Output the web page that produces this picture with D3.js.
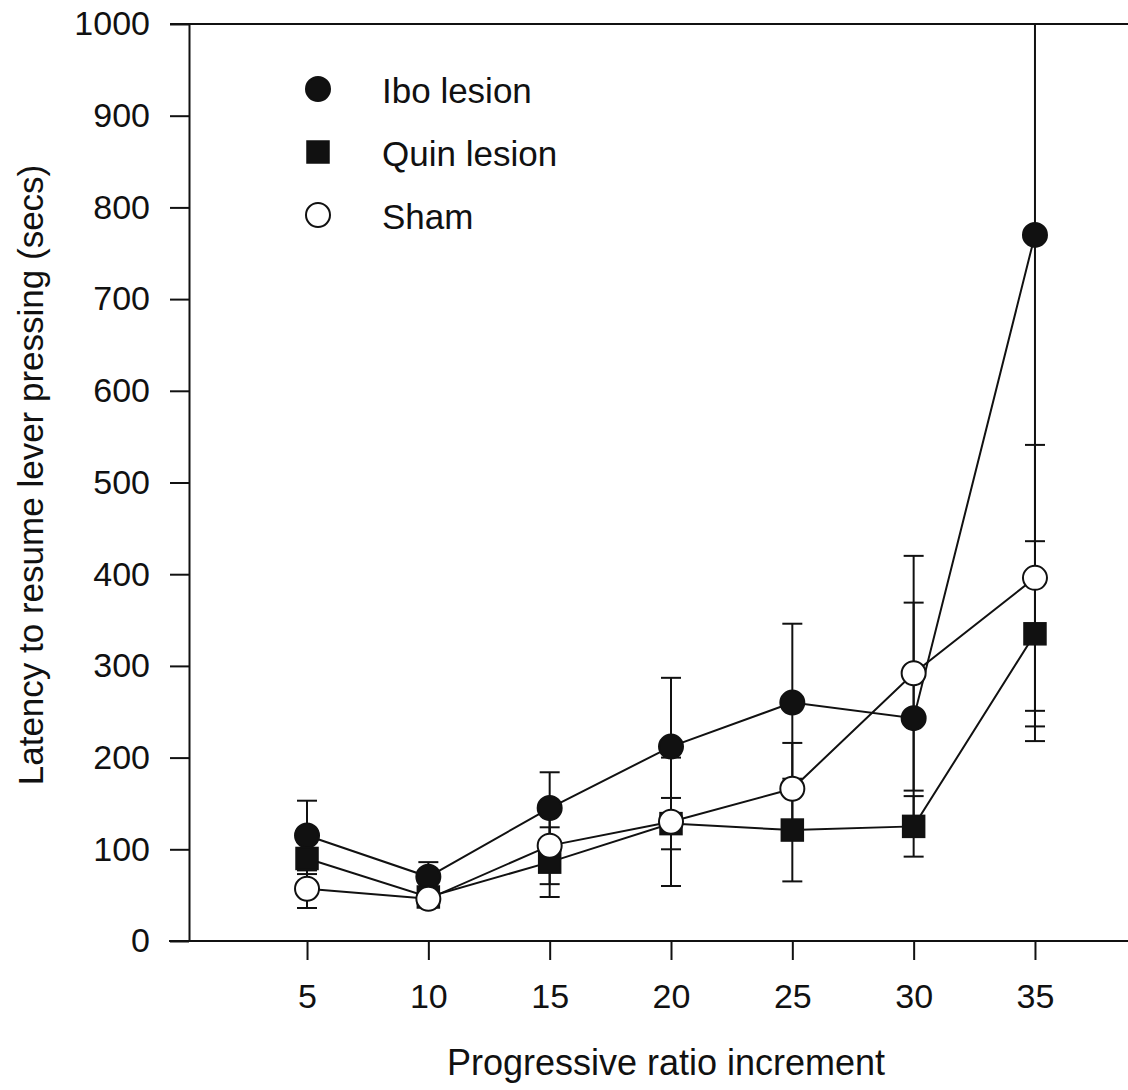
<!DOCTYPE html>
<html>
<head>
<meta charset="utf-8">
<script src="https://cdn.jsdelivr.net/npm/d3@7"></script>
<style>
  body { margin: 0; background: #fff; }
  svg text { font-family: Arial, "Liberation Sans", sans-serif; fill: #111; }
</style>
</head>
<body>
<div id="chart"></div>
<script>
// progressive ratio increments
const increments = [5, 10, 15, 20, 25, 30, 35];

// mean latency (secs) and error (+/-) per group
const iboMean = [115, 70, 145, 212, 260, 243, 770];
const iboErr  = [38, 16, 39, 75, 86, 126, 552];
const quinMean = [90, 48, 86, 128, 121, 125, 335];
const quinErr  = [17, 5, 38, 28, 56, 33, 101];
const shamMean = [57, 46, 104, 130, 166, 292, 396];
const shamErr  = [21, 5, 42, 70, 50, 128, 145];

const yTicks = [0, 100, 200, 300, 400, 500, 600, 700, 800, 900, 1000];
const xTicks = [5, 10, 15, 20, 25, 30, 35];

const width = 1128, height = 1090;
const axisX = 189;

const svg = d3.select('#chart').append('svg')
    .attr('width', width)
    .attr('height', height);

const x = d3.scaleLinear().domain([0, 40]).range([185.7, 1156.3]);
const y = d3.scaleLinear().domain([0, 1000]).range([941, 24]);

/**
 * Axes.
 */
const yAxis = d3.axisLeft(y)
    .tickValues(yTicks)
    .tickFormat(d3.format('d'))
    .tickSize(19)
    .tickSizeOuter(0)
    .tickPadding(20);

const gy = svg.append('g')
    .attr('transform', `translate(${axisX},0)`)
    .call(yAxis);
gy.select('.domain').attr('stroke', '#111').attr('stroke-width', 2);
gy.selectAll('.tick line').attr('stroke', '#111').attr('stroke-width', 2);
gy.selectAll('.tick text').attr('font-size', 34).attr('fill', '#111');

const xAxis = d3.axisBottom(x)
    .tickValues(xTicks)
    .tickSize(19)
    .tickSizeOuter(0)
    .tickPadding(24);

const gx = svg.append('g')
    .attr('transform', `translate(0,${y(0)})`)
    .call(xAxis);
gx.select('.domain').remove();
gx.selectAll('.tick line').attr('stroke', '#111').attr('stroke-width', 2);
gx.selectAll('.tick text').attr('font-size', 34).attr('fill', '#111');

// bottom and top frame lines
svg.append('line')
    .attr('x1', 169).attr('x2', width)
    .attr('y1', y(0)).attr('y2', y(0))
    .attr('stroke', '#111').attr('stroke-width', 2);
svg.append('line')
    .attr('x1', 170).attr('x2', width)
    .attr('y1', y(1000)).attr('y2', y(1000))
    .attr('stroke', '#111').attr('stroke-width', 2);

// axis titles
svg.append('text')
    .attr('x', 666).attr('y', 1075)
    .attr('text-anchor', 'middle')
    .attr('font-size', 36)
    .text('Progressive ratio increment');

svg.append('text')
    .attr('transform', 'translate(43,475) rotate(-90)')
    .attr('text-anchor', 'middle')
    .attr('font-size', 35)
    .text('Latency to resume lever pressing (secs)');

/**
 * Series.
 */
const series = [
    {name: 'Ibo lesion', mean: iboMean, err: iboErr, shape: 'circle', fill: '#111'},
    {name: 'Quin lesion', mean: quinMean, err: quinErr, shape: 'square', fill: '#111'},
    {name: 'Sham', mean: shamMean, err: shamErr, shape: 'circle', fill: '#fff'},
];

svg.append('clipPath').attr('id', 'plot-clip')
    .append('rect')
    .attr('x', axisX).attr('y', y(1000))
    .attr('width', width - axisX).attr('height', y(0) - y(1000));

const plot = svg.append('g').attr('clip-path', 'url(#plot-clip)');
const capW = 10;

// error bars
series.forEach(s => {
    const g = plot.append('g').attr('class', 'errors');
    increments.forEach((inc, i) => {
        const cx = x(inc);
        const hi = s.mean[i] + s.err[i];
        const lo = Math.max(0, s.mean[i] - s.err[i]);
        g.append('line')
            .attr('x1', cx).attr('x2', cx)
            .attr('y1', y(hi)).attr('y2', y(lo))
            .attr('stroke', '#111').attr('stroke-width', 2);
        [hi, lo].forEach(v => {
            g.append('line')
                .attr('x1', cx - capW).attr('x2', cx + capW)
                .attr('y1', y(v)).attr('y2', y(v))
                .attr('stroke', '#111').attr('stroke-width', 2);
        });
    });
});

// connecting lines
const line = d3.line()
    .x((d, i) => x(increments[i]))
    .y(d => y(d));

series.forEach(s => {
    plot.append('path')
        .attr('d', line(s.mean))
        .attr('fill', 'none')
        .attr('stroke', '#111')
        .attr('stroke-width', 2);
});

function drawMarker(g, shape, fill, cx, cy) {
    if (shape === 'square') {
        g.append('rect')
            .attr('x', cx - 11).attr('y', cy - 11)
            .attr('width', 22).attr('height', 22)
            .attr('fill', fill)
            .attr('stroke', '#111').attr('stroke-width', 1.5);
    } else {
        g.append('circle')
            .attr('cx', cx).attr('cy', cy)
            .attr('r', 12)
            .attr('fill', fill)
            .attr('stroke', '#111').attr('stroke-width', 2);
    }
}

// markers
series.forEach(s => {
    const g = svg.append('g').attr('class', 'markers');
    s.mean.forEach((v, i) => drawMarker(g, s.shape, s.fill, x(increments[i]), y(v)));
});

/**
 * Legend.
 */
const legend = svg.append('g').attr('class', 'legend');
series.forEach((s, i) => {
    const cy = 89 + i * 63;
    drawMarker(legend, s.shape, s.fill, 318, cy);
    legend.append('text')
        .attr('x', 382).attr('y', cy + 14)
        .attr('font-size', 35)
        .text(s.name);
});
</script>
</body>
</html>
